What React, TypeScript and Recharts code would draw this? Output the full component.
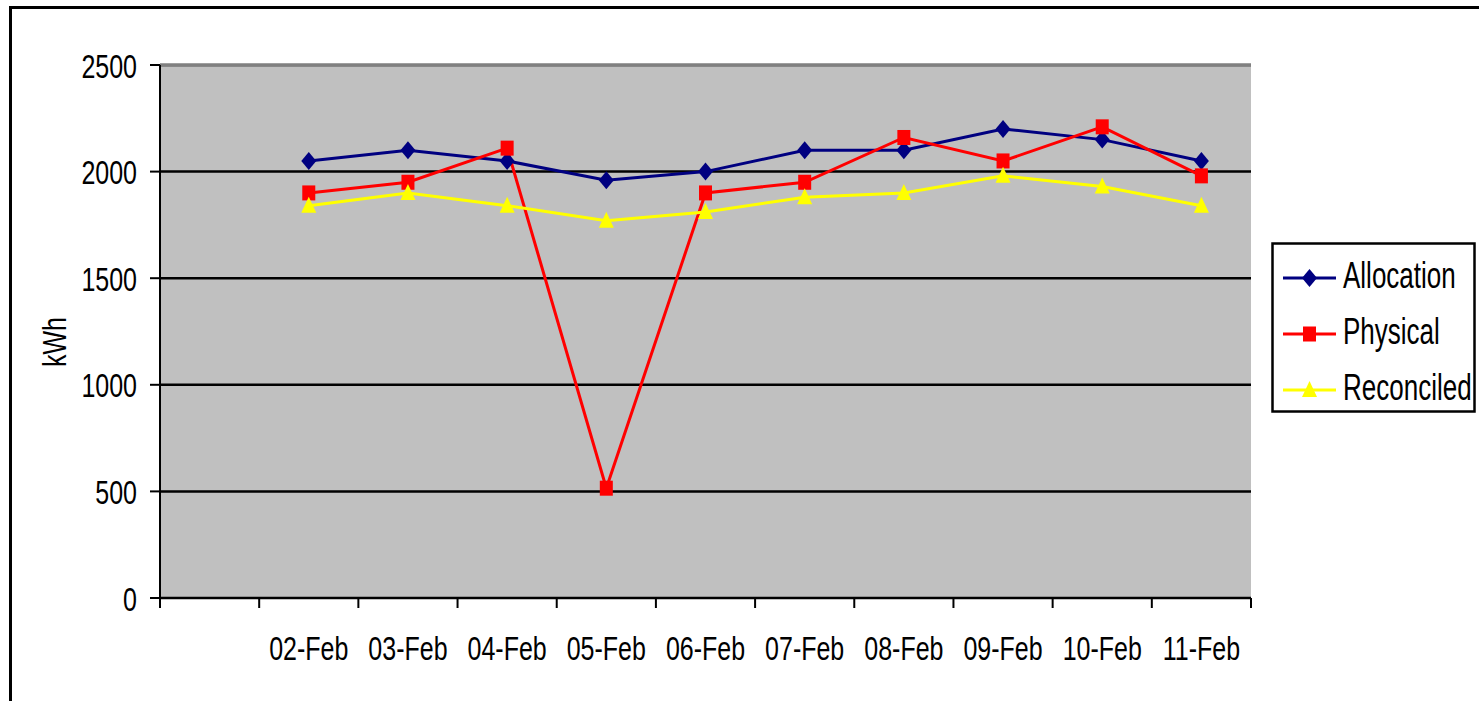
import React from "react";
import { LineChart, Line, XAxis, YAxis, CartesianGrid, ReferenceLine } from "recharts";

const categories = ["", "02-Feb", "03-Feb", "04-Feb", "05-Feb", "06-Feb", "07-Feb", "08-Feb", "09-Feb", "10-Feb", "11-Feb"];
const allocation = [null, 2050, 2100, 2050, 1960, 2000, 2100, 2100, 2200, 2150, 2050];
const physical = [null, 1900, 1950, 2110, 515, 1900, 1950, 2160, 2050, 2210, 1980];
const reconciled = [null, 1840, 1900, 1840, 1770, 1810, 1880, 1900, 1980, 1930, 1840];
const yTicks = [0, 500, 1000, 1500, 2000, 2500];

const data = categories.map((date, i) => ({
  date,
  Allocation: allocation[i],
  Physical: physical[i],
  Reconciled: reconciled[i],
}));

const W = 1479;
const H = 701;
const PLOT_LEFT = 160;
const PLOT_RIGHT = 1251;
const BAND = (PLOT_RIGHT - PLOT_LEFT) / categories.length;
const FONT = "'Liberation Sans', Arial, sans-serif";

// marker shapes, Excel style
const shapeFor = (kind: string, cx: number, cy: number, color: string, key?: any) => {
  if (kind === "diamond")
    return <polygon key={key} points={`${cx},${cy - 9} ${cx + 7.5},${cy} ${cx},${cy + 9} ${cx - 7.5},${cy}`} fill={color} />;
  if (kind === "square")
    return <rect key={key} x={cx - 6.5} y={cy - 7.5} width={13} height={15} fill={color} />;
  return <polygon key={key} points={`${cx},${cy - 9} ${cx + 7.5},${cy + 7} ${cx - 7.5},${cy + 7}`} fill={color} />;
};

const makeDot = (kind: string, color: string) => (props: any) => {
  const { cx, cy, value, index } = props;
  if (value == null || cx == null || cy == null) return <g key={`n-${index}`} />;
  return shapeFor(kind, cx, cy, color, `d-${index}`);
};

const series = [
  { key: "Allocation", color: "#000080", shape: "diamond" },
  { key: "Physical", color: "#FF0000", shape: "square" },
  { key: "Reconciled", color: "#FFFF00", shape: "triangle" },
];

const XTick = (props: any) => {
  const { x, y, payload, index } = props;
  return (
    <g>
      <line x1={x - BAND / 2} y1={y - 10} x2={x - BAND / 2} y2={y} stroke="#000" strokeWidth={2} />
      {index === categories.length - 1 && (
        <line x1={x + BAND / 2} y1={y - 10} x2={x + BAND / 2} y2={y} stroke="#000" strokeWidth={2} />
      )}
      <text
        transform={`translate(${x},${y + 52}) scale(1,1.3)`}
        textAnchor="middle"
        fontSize={25}
        fontFamily={FONT}
        fill="#000"
      >
        {payload.value}
      </text>
    </g>
  );
};

const YTick = (props: any) => {
  const { x, y, payload } = props;
  return (
    <text
      transform={`translate(${x},${y + 12.5}) scale(1,1.3)`}
      textAnchor="end"
      fontSize={25}
      fontFamily={FONT}
      fill="#000"
    >
      {payload.value}
    </text>
  );
};

const Legend = () => (
  <svg
    width={207}
    height={173}
    style={{ position: "absolute", left: 1270, top: 241 }}
  >
    <rect x={2.5} y={2.5} width={202} height={168} fill="#fff" stroke="#000" strokeWidth={2.5} />
    {series.map((s, i) => {
      const cy = 37 + i * 56;
      return (
        <g key={s.key}>
          <line x1={13} y1={cy} x2={66} y2={cy} stroke={s.color} strokeWidth={3} />
          {shapeFor(s.shape, 39.5, cy, s.color)}
          <text
            transform={`translate(73,${cy + 9.5}) scale(1,1.4)`}
            fontSize={26}
            fontFamily={FONT}
            fill="#000"
          >
            {s.key}
          </text>
        </g>
      );
    })}
  </svg>
);

const App = () => {
  return (
    <div
      style={{
        position: "absolute",
        left: 0,
        top: 0,
        width: W,
        height: H,
        overflow: "hidden",
        background: "#fff",
        fontFamily: FONT,
      }}
    >
      <div
        style={{
          position: "absolute",
          left: 9,
          top: 6,
          width: 1600,
          height: 900,
          border: "3px solid #000",
        }}
      />
      <div style={{ position: "absolute", left: 0, top: 0 }}>
        <LineChart
          width={W}
          height={H}
          data={data}
          margin={{ top: 65, right: W - PLOT_RIGHT, bottom: 0, left: 0 }}
        >
          <CartesianGrid
            horizontal
            vertical={false}
            fill="#C0C0C0"
            stroke="#000"
            strokeWidth={2.5}
            strokeOpacity={1}
          />
          <XAxis
            dataKey="date"
            scale="band"
            height={103}
            interval={0}
            tickLine={false}
            tickSize={10}
            tickMargin={0}
            axisLine={{ stroke: "#000", strokeWidth: 2 }}
            tick={<XTick />}
          />
          <YAxis
            width={PLOT_LEFT}
            domain={[0, 2500]}
            ticks={yTicks}
            interval={0}
            tickSize={10}
            tickMargin={13}
            tickLine={{ stroke: "#000", strokeWidth: 2 }}
            axisLine={{ stroke: "#000", strokeWidth: 2 }}
            tick={<YTick />}
            label={() => (
              <text
                transform="translate(66,342) rotate(-90) scale(1,1.3)"
                textAnchor="middle"
                fontSize={25}
                fontFamily={FONT}
                fill="#000"
              >
                kWh
              </text>
            )}
          />
          <YAxis
            yAxisId="r"
            orientation="right"
            width={0}
            domain={[0, 2500]}
            tick={false}
            tickLine={false}
            axisLine={{ stroke: "#808080", strokeWidth: 3 }}
          />
          <ReferenceLine y={2500} stroke="#808080" strokeWidth={3} />
          {series.map((s) => (
            <Line
              key={s.key}
              dataKey={s.key}
              stroke={s.color}
              strokeWidth={3}
              dot={makeDot(s.shape, s.color)}
              activeDot={false}
              isAnimationActive={false}
            />
          ))}
        </LineChart>
      </div>
      <Legend />
    </div>
  );
};

export default App;
